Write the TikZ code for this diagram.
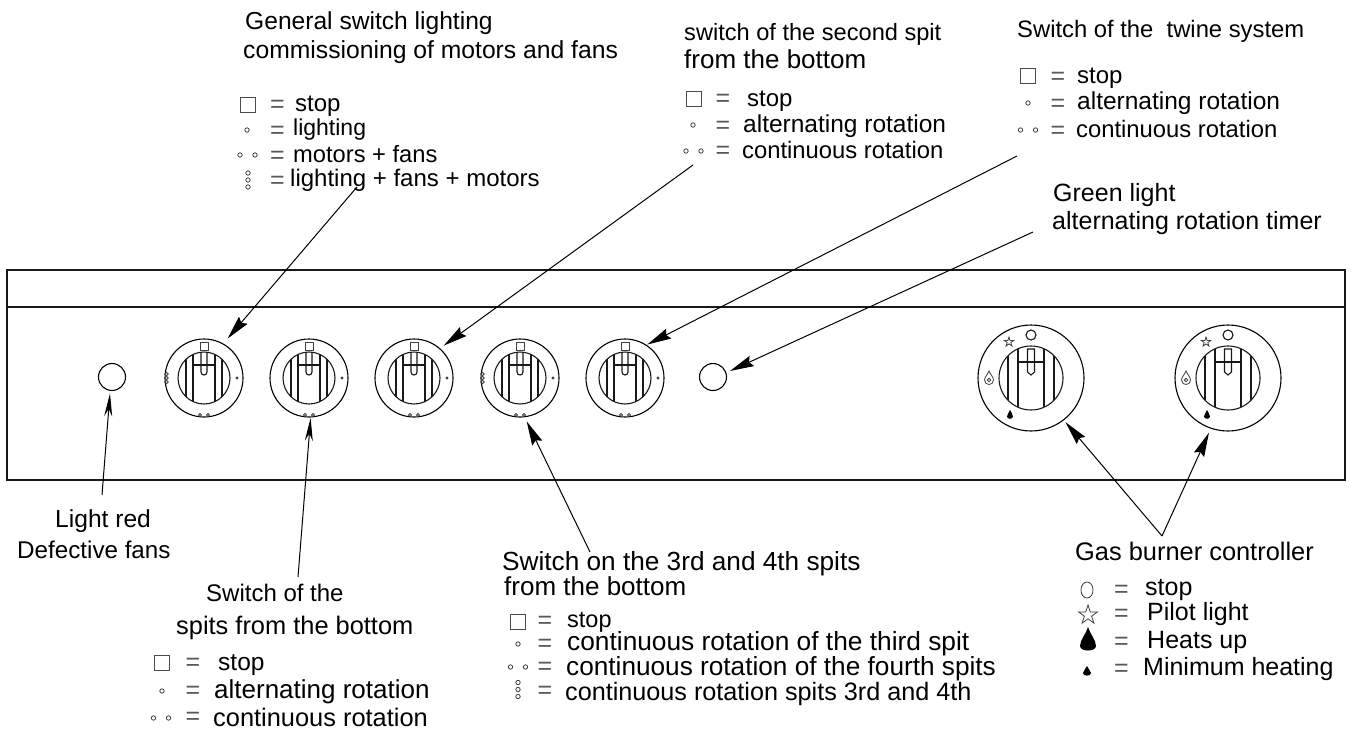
\documentclass[tikz,border=0pt]{standalone}
\usepackage{fontspec}
\setmainfont{Liberation Sans}
\usetikzlibrary{arrows.meta}
\tikzset{
  x=1pt,y=-1pt,
  lbl/.style={anchor=base west,inner sep=0pt,text depth=0pt,font=\fontsize{#1}{#1}\selectfont},
  eq/.style={anchor=center,inner sep=0pt,text=black!65,font=\fontsize{25}{26}\selectfont},
  ln/.style={line width=1.1pt,black!90},
  thin ln/.style={line width=.8pt,black!75},
  arr/.style={line width=1pt,-{Stealth[length=24pt,width=11pt,inset=3pt]}},
  knob/.style={circle,draw,line width=1.1pt,minimum size=78pt,inner sep=0pt,outer sep=3pt},
  gknob/.style={circle,draw,line width=1.1pt,minimum size=106pt,inner sep=0pt,outer sep=3pt},
  lamp/.style={circle,draw,line width=1.1pt,minimum size=27pt,inner sep=0pt,outer sep=3pt},
  dial/.pic={
    \draw[ln] (0,0) circle (26);
    \begin{scope}
      \clip (0,0) circle (26);
      \draw[ln] (-11,-30) -- (-11,30) (11,-30) -- (11,30) (-18,-30) -- (-18,30) (18,-30) -- (18,30)
        (-11,-13) -- (11,-13);
    \end{scope}
    \draw[ln] (-3,-25) -- (-3,-6) .. controls (-3,-2) and (3,-2) .. (3,-6) -- (3,-25);
    \draw[thin ln] (-4,-36) rectangle (4,-28);
    \draw[thin ln] (-4,37) circle (1.5) (4,37) circle (1.5);
  },
  rdot/.pic={\fill[black!75] (33,0) circle (1.6);},
  ldots/.pic={\draw[thin ln] (-37.5,-4) circle (1.7) (-37.5,0) circle (1.7) (-37.5,4) circle (1.7);},
  gdial/.pic={
    \draw[ln] (0,0) circle (32);
    \begin{scope}
      \clip (0,0) circle (32);
      \draw[ln] (-13,-35) -- (-13,35) (13,-35) -- (13,35) (-23,-35) -- (-23,35) (23,-35) -- (23,35)
        (-13,-16) -- (13,-16);
    \end{scope}
    \draw[ln] (-3.5,-29) -- (-3.5,-6) -- (0,-3) -- (3.5,-6) -- (3.5,-29) -- cycle;
    \draw[ln] (0,-43) circle (5);
    \begin{scope}[shift={(-22,-36)},scale=5]
      \draw[thin ln] (0,-1)--(.224,-.309)--(.951,-.309)--(.363,.118)--(.588,.809)--(0,.382)--(-.588,.809)--(-.363,.118)--(-.951,-.309)--(-.224,-.309)--cycle;
    \end{scope}
    \begin{scope}[shift={(-42,0)}]
      \draw[thin ln] (0,-7) .. controls (1,-4) and (4.5,-1) .. (4.5,2) .. controls (4.5,8) and (-4.5,8) .. (-4.5,2) .. controls (-4.5,-1) and (-1,-4) .. (0,-7) -- cycle;
      \draw[thin ln] (0,2) circle (1.8);
    \end{scope}
    \begin{scope}[shift={(-21,37)}]
      \fill (0,-5) .. controls (.5,-3) and (3,-1) .. (3,1.5) .. controls (3,4.5) and (-3,4.5) .. (-3,1.5) .. controls (-3,-1) and (-.5,-3) .. (0,-5) -- cycle;
    \end{scope}
  },
  sq/.pic={\draw[line width=.9pt,black!70] (-7.5,-7.5) rectangle (7.5,7.5);},
  od/.pic={\draw[thin ln] (0,0) circle (2.2);},
  odd/.pic={\draw[thin ln] (-7.5,0) circle (2.2) (7.5,0) circle (2.2);},
  oddd/.pic={\draw[thin ln] (0,-7) circle (2.2) (0,0) circle (2.2) (0,7) circle (2.2);},
}
\begin{document}
\begin{tikzpicture}
\useasboundingbox (0,0) rectangle (1351,731);
\fill[white] (0,0) rectangle (1351,731);
% panel
\draw[ln] (7,270) rectangle (1345,480);
\draw[ln] (7,307) -- (1345,307);
% lamps
\node[lamp] (lr) at (112,377) {};
\node[lamp] (lg) at (713,377) {};
% knobs
\node[knob] (k1) at (204,378) {};
\node[knob] (k2) at (309,378) {};
\node[knob] (k3) at (414,378) {};
\node[knob] (k4) at (520,378) {};
\node[knob] (k5) at (625,378) {};
\node[gknob] (g1) at (1031,378) {};
\node[gknob] (g2) at (1228,378) {};
\foreach \k in {k1,k2,k3,k4,k5} {\pic at (\k) {dial}; \pic at (\k) {rdot};}
\pic at (k1) {ldots}; \pic at (k4) {ldots};
\pic at (g1) {gdial}; \pic at (g2) {gdial};

% Block 1
\node[lbl=24.6] (t1a) at (245,29) {General switch lighting};
\node[lbl=24.7] (t1b) at (243,58) {commissioning of motors and fans};
\pic at (247.5,105) {sq};
\node[eq] (e1a) at (277.5,106) {=};
\node[lbl=24] (t1c) at (295,111) {stop};
\pic at (247,130) {od};
\node[eq] (e1b) at (277.5,132) {=};
\node[lbl=23] (t1d) at (293,135) {lighting};
\pic at (247.5,155) {odd};
\node[eq] (e1c) at (277.5,157) {=};
\node[lbl=23.7] (t1e) at (293,162) {motors + fans};
\pic at (248,180) {oddd};
\node[eq] (e1d) at (277.5,182) {=};
\node[lbl=24] (t1f) at (290,186) {lighting + fans + motors};
% Block 2
\node[lbl=23.6] (t2a) at (684,40) {switch of the second spit};
\node[lbl=26] (t2b) at (684,68) {from the bottom};
\pic at (693.5,98.5) {sq};
\node[eq] (e2a) at (723,100) {=};
\node[lbl=24] (t2c) at (747,106) {stop};
\pic at (693,125) {od};
\node[eq] (e2b) at (723,127) {=};
\node[lbl=24.5] (t2d) at (743,132) {alternating rotation};
\pic at (693.5,151) {odd};
\node[eq] (e2c) at (723,152) {=};
\node[lbl=23.8] (t2e) at (742,158) {continuous rotation};
% Block 3
\node[lbl=23.8] (t3a) at (1017,37) {Switch of the \ twine system};
\pic at (1028,75.5) {sq};
\node[eq] (e3a) at (1058,78) {=};
\node[lbl=24] (t3b) at (1077,83) {stop};
\pic at (1028,103) {od};
\node[eq] (e3b) at (1058,105) {=};
\node[lbl=24.5] (t3c) at (1077,109) {alternating rotation};
\pic at (1028,130) {odd};
\node[eq] (e3c) at (1058,132) {=};
\node[lbl=23.8] (t3d) at (1076,137) {continuous rotation};
% Block 4
\node[lbl=25] (t4a) at (1053,201) {Green light};
\node[lbl=25] (t4b) at (1052,229) {alternating rotation timer};
% Block 5
\node[lbl=24.6] (t5a) at (55,527) {Light red};
\node[lbl=24.2] (t5b) at (17,558) {Defective fans};
% Block 6
\node[lbl=24] (t6a) at (206,601) {Switch of the};
\node[lbl=25.4] (t6b) at (176,634) {spits from the bottom};
\pic at (161.5,663) {sq};
\node[eq] (e6a) at (193,664) {=};
\node[lbl=24.5] (t6c) at (218,670) {stop};
\pic at (162,691) {od};
\node[eq] (e6b) at (193,692) {=};
\node[lbl=26] (t6d) at (214,698) {alternating rotation};
\pic at (161,718) {odd};
\node[eq] (e6c) at (193,718) {=};
\node[lbl=25.4] (t6e) at (213,726) {continuous rotation};
% Block 7
\node[lbl=26.2] (t7a) at (502,570) {Switch on the 3rd and 4th spits};
\node[lbl=26] (t7b) at (504,595) {from the bottom};
\pic at (518,621.5) {sq};
\node[eq] (e7a) at (545,622) {=};
\node[lbl=23.5] (t7c) at (567,627) {stop};
\pic at (518,644) {od};
\node[eq] (e7b) at (545,645) {=};
\node[lbl=26.3] (t7d) at (567,650) {continuous rotation of the third spit};
\pic at (518,667) {odd};
\node[eq] (e7c) at (545,668) {=};
\node[lbl=26.2] (t7e) at (566,675) {continuous rotation of the fourth spits};
\pic at (518,689.5) {oddd};
\node[eq] (e7d) at (545,692) {=};
\node[lbl=25.2] (t7f) at (565,700) {continuous rotation spits 3rd and 4th};
% Block 8
\node[lbl=25.4] (t8a) at (1075,560) {Gas burner controller};
\draw[thin ln] (1087,590) ellipse (6 and 8);
\node[eq] (e8a) at (1121.5,591) {=};
\node[lbl=25] (t8b) at (1145,595) {stop};
\begin{scope}[shift={(1088,615)},scale=10]
  \draw[thin ln] (0,-1)--(.224,-.309)--(.951,-.309)--(.363,.118)--(.588,.809)--(0,.382)--(-.588,.809)--(-.363,.118)--(-.951,-.309)--(-.224,-.309)--cycle;
\end{scope}
\node[eq] (e8b) at (1121.5,615) {=};
\node[lbl=25] (t8c) at (1147,620) {Pilot light};
\fill (1088,627) .. controls (1090,634) and (1096,640) .. (1096,646) .. controls (1096,652) and (1080,652) .. (1080,646) .. controls (1080,640) and (1086,634) .. (1088,627) -- cycle;
\node[eq] (e8d) at (1121.5,643) {=};
\node[lbl=25] (t8d) at (1147,648) {Heats up};
\fill (1087,666) .. controls (1088,669) and (1091,671) .. (1091,673) .. controls (1091,676.5) and (1083,676.5) .. (1083,673) .. controls (1083,671) and (1086,669) .. (1087,666) -- cycle;
\node[eq] (e8e) at (1121.5,670) {=};
\node[lbl=25] (t8e) at (1143,675) {Minimum heating};
% connector start points
\coordinate (c1) at (357,187);
\coordinate (c2) at (693,165);
\coordinate (c3) at (1017,156);
\coordinate (c4) at (1033,232);
\coordinate (c5) at (102,495);
\coordinate (c6) at (298,577);
\coordinate (c7) at (590,552);
\coordinate (c8) at (1162,536);
\draw[arr,shorten >=4pt] (c1) -- (k1.60);
\draw[arr,shorten >=2pt] (c2) -- (k3.48);
\draw[arr,shorten >=-2pt] (c3) -- (k5.55);
\draw[arr,shorten >=1.5pt] (c4) -- (lg.19);
\draw[arr,-{Stealth[length=23pt,width=8pt]}] (c5) -- (lr.-97);
\draw[arr,shorten >=-2pt,-{Stealth[length=23pt,width=8pt]}] (c6) -- (k2.-88);
\draw[arr,shorten >=2pt] (c7) -- (k4.-82);
\draw[arr] (c8) -- (g1.-52);
\draw[arr,shorten >=2pt] (c8) -- (g2.-109);
\end{tikzpicture}
\end{document}
